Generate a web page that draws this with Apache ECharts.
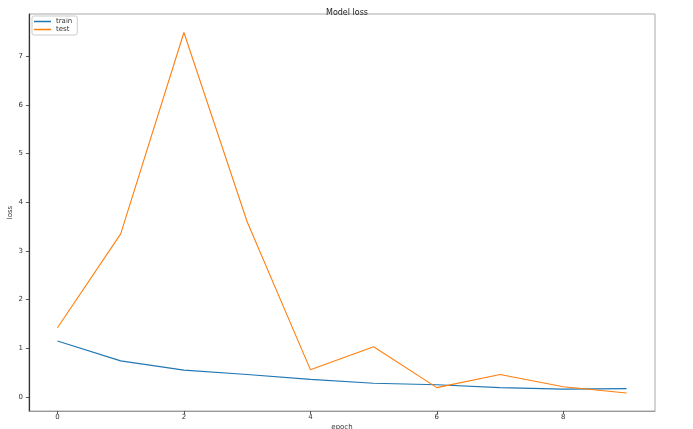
<!DOCTYPE html>
<html>
<head>
<meta charset="utf-8">
<script src="https://cdn.jsdelivr.net/npm/echarts@6/dist/echarts.min.js"></script>
<style>
  html, body { margin: 0; padding: 0; background: #fff; }
  #chart { width: 693px; height: 429px; }
</style>
</head>
<body>
<div id="chart"></div>
<script>
  // epochs and loss values
  const epochs = [0, 1, 2, 3, 4, 5, 6, 7, 8, 9];
  const trainLoss = [1.15, 0.74, 0.55, 0.46, 0.36, 0.28, 0.25, 0.19, 0.16, 0.17];
  const testLoss = [1.42, 3.35, 7.49, 3.6, 0.56, 1.03, 0.19, 0.46, 0.21, 0.08];
  const xTicks = [0, 2, 4, 6, 8];
  const yTicks = [0, 1, 2, 3, 4, 5, 6, 7];

  const font = 'DejaVu Sans';
  let chart = echarts.init(document.getElementById('chart'));

  function pairs(vals) {
    return epochs.map((e, i) => [e, vals[i]]);
  }

  chart.setOption({
    animation: false,
    color: ['#1f77b4', '#ff7f0e'],
    title: {
      text: 'Model loss',
      left: 342,
      textAlign: 'center',
      top: 4,
      textStyle: { fontFamily: font, fontSize: 8, fontWeight: 'normal', color: '#222' }
    },
    legend: {
      orient: 'vertical',
      left: 32,
      top: 16,
      padding: [2, 5, 2, 2],
      itemGap: 1,
      itemWidth: 17,
      itemHeight: 1.5,
      icon: 'rect',
      borderColor: '#ccc',
      borderWidth: 1,
      borderRadius: 2,
      textStyle: { fontFamily: font, fontSize: 7, color: '#333', padding: [0, 0, 0, 0] },
      data: ['train', 'test']
    },
    grid: {
      left: 29, right: 38, top: 14, bottom: 18,
      outerBoundsMode: 'none',
      containLabel: false,
      show: true,
      borderColor: '#aaa',
      borderWidth: 1
    },
    xAxis: {
      type: 'value',
      min: -0.45,
      max: 9.45,
      name: 'epoch',
      nameLocation: 'middle',
      nameGap: 13,
      nameMoveOverlap: false,
      nameTextStyle: { fontFamily: font, fontSize: 7, color: '#333' },
      splitLine: { show: false },
      axisLine: { onZero: false, lineStyle: { color: '#999', width: 1 } },
      axisTick: { show: true, length: 3, customValues: xTicks, lineStyle: { color: '#555' } },
      axisLabel: {
        customValues: xTicks,
        fontFamily: font, fontSize: 7, color: '#333', margin: 3
      }
    },
    yAxis: {
      type: 'value',
      min: -0.29,
      max: 7.87,
      name: 'loss',
      nameLocation: 'middle',
      nameGap: 15,
      nameMoveOverlap: false,
      nameTextStyle: { fontFamily: font, fontSize: 7, color: '#333' },
      splitLine: { show: false },
      axisLine: { show: true, onZero: false, lineStyle: { color: '#333', width: 1.2 } },
      axisTick: { show: true, length: 3, customValues: yTicks, lineStyle: { color: '#555' } },
      axisLabel: {
        customValues: yTicks,
        fontFamily: font, fontSize: 7, color: '#333', margin: 6
      }
    },
    series: [
      {
        name: 'train',
        type: 'line',
        data: pairs(trainLoss),
        showSymbol: false,
        lineStyle: { width: 1.1 }
      },
      {
        name: 'test',
        type: 'line',
        data: pairs(testLoss),
        showSymbol: false,
        lineStyle: { width: 1.1 }
      }
    ]
  });
</script>
</body>
</html>
